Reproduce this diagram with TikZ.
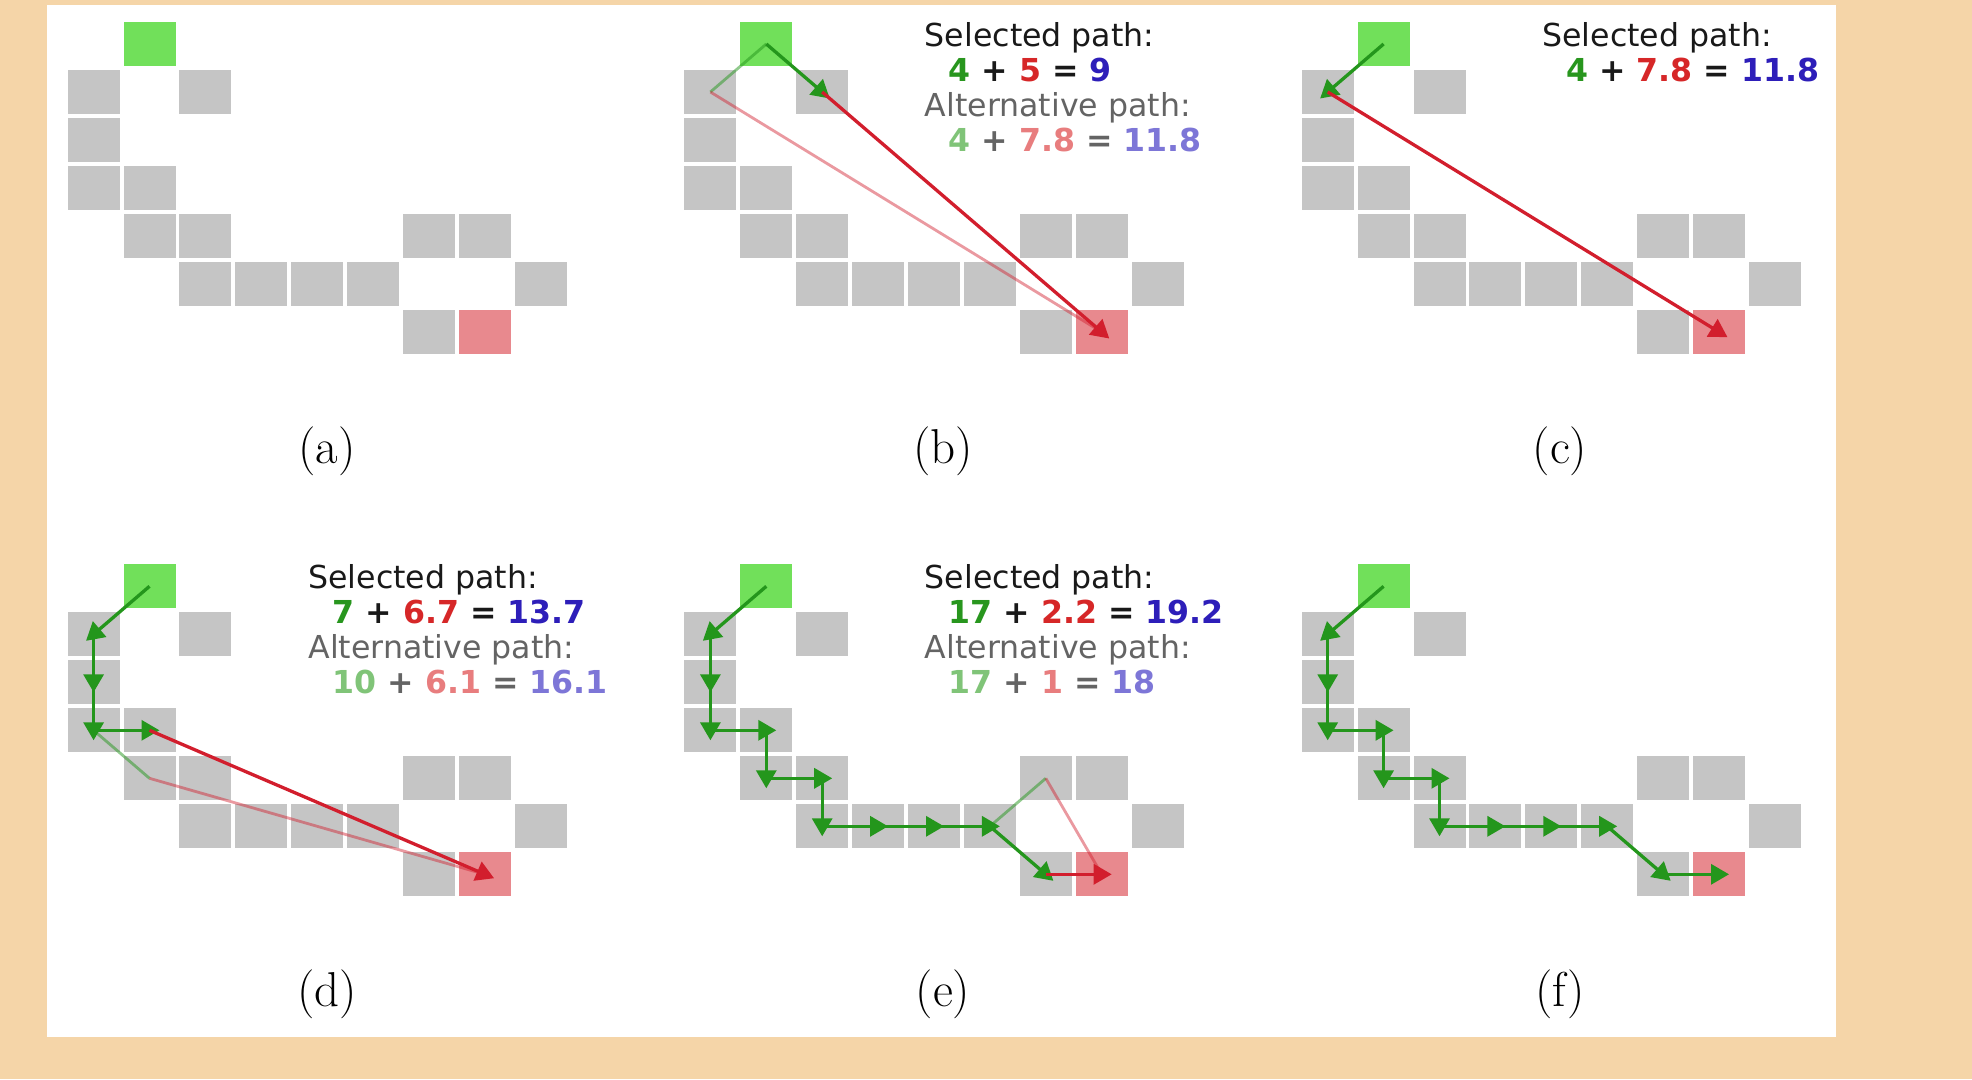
\documentclass[tikz,border=0pt]{standalone}
\usepackage{fontspec}
\newfontfamily\dv{DejaVu Sans}
\usetikzlibrary{arrows.meta}
\definecolor{tanbg}{RGB}{245,213,168}
\definecolor{cellgray}{RGB}{197,197,197}
\definecolor{startgreen}{RGB}{113,224,90}
\definecolor{goalred}{RGB}{232,137,142}
\definecolor{pathgreen}{RGB}{36,150,28}
\definecolor{pathred}{RGB}{210,30,45}
\definecolor{tg}{RGB}{40,150,30}
\definecolor{tr}{RGB}{214,39,40}
\definecolor{tb}{RGB}{45,30,185}
\definecolor{atg}{RGB}{128,196,120}
\definecolor{atr}{RGB}{232,125,126}
\definecolor{atb}{RGB}{125,118,215}
\definecolor{seltext}{RGB}{25,25,25}
\definecolor{alttext}{RGB}{100,100,100}
\tikzset{
  cell/.style={rectangle, minimum width=52pt, minimum height=44pt, inner sep=0pt, outer sep=0pt, draw=none, fill=cellgray},
  startcell/.style={cell, fill=startgreen},
  goalcell/.style={cell, fill=goalred},
  garrow/.style={draw=pathgreen, line width=3.3pt, -{Triangle[length=18pt 0 0,width=20pt 0 0]}, shorten >=-10pt},
  rarrow/.style={draw=pathred, line width=3.3pt, -{Triangle[length=18pt 0 0,width=20pt 0 0]}, shorten >=-10pt},
  galt/.style={draw=pathgreen, draw opacity=0.5, line width=2.8pt},
  ralt/.style={draw=pathred, draw opacity=0.45, line width=2.8pt},
  seltitle/.style={font=\dv\fontsize{31.6}{35}\selectfont, text=seltext, inner sep=0pt, anchor=base west},
  alttitle/.style={font=\dv\fontsize{31.6}{35}\selectfont, text=alttext, inner sep=0pt, anchor=base west},
  selnum/.style={font=\dv\bfseries\fontsize{31.6}{35}\selectfont, text=seltext, inner sep=0pt, anchor=base west},
  altnum/.style={font=\dv\bfseries\fontsize{31.6}{35}\selectfont, text=alttext, inner sep=0pt, anchor=base west},
  caption/.style={font=\fontsize{49}{58}\selectfont, inner sep=0pt, anchor=center}
}
\newcommand\gridpanel[3]{%
  \foreach \cx/\ry in {0/1,2/1,0/2,0/3,1/3,1/4,2/4,6/4,7/4,2/5,3/5,4/5,5/5,8/5,6/6}{
    \node[cell] (#1-\cx-\ry) at ({#2+55.9*\cx+26},{#3+48*\ry+22}) {};
  }
  \node[startcell] (#1-1-0) at ({#2+81.9},{#3+22}) {};
  \node[goalcell] (#1-7-6) at ({#2+417.3},{#3+310}) {};
}
\begin{document}
\begin{tikzpicture}[x=1pt, y=-1pt]
\useasboundingbox (0,0) rectangle (1972,1079);
\fill[tanbg] (0,0) rectangle (1972,1079);
\fill[white] (47,5) rectangle (1836,1037);

% grids
\gridpanel{a}{67.6}{22}
\gridpanel{b}{684.4}{22}
\gridpanel{c}{1301.7}{22}
\gridpanel{d}{67.6}{564.3}
\gridpanel{e}{684.4}{564.3}
\gridpanel{f}{1301.7}{564.3}

% (b)
\draw[galt] (b-1-0.center) -- (b-0-1.center);
\draw[ralt] (b-0-1.center) -- (b-7-6.center);
\draw[garrow] (b-1-0.center) -- (b-2-1.center);
\draw[rarrow] (b-2-1.center) -- (b-7-6.center);
\node[seltitle] (bt1) at (924.7,46) {Selected path:};
\node[selnum] (bt2) at (948.5,81) {{\color{tg}4} + {\color{tr}5} = {\color{tb}9}};
\node[alttitle] (bt3) at (924.7,116) {Alternative path:};
\node[altnum] (bt4) at (948.5,151) {{\color{atg}4} + {\color{atr}7.8} = {\color{atb}11.8}};

% (c)
\draw[garrow] (c-1-0.center) -- (c-0-1.center);
\draw[rarrow] (c-0-1.center) -- (c-7-6.center);
\node[seltitle] (ct1) at (1542.2,46) {Selected path:};
\node[selnum] (ct2) at (1566,81) {{\color{tg}4} + {\color{tr}7.8} = {\color{tb}11.8}};

% (d)
\draw[galt] (d-0-3.center) -- (d-1-4.center);
\draw[ralt] (d-1-4.center) -- (d-7-6.center);
\foreach \p/\q in {1-0/0-1,0-1/0-2,0-2/0-3,0-3/1-3}
  \draw[garrow] (d-\p.center) -- (d-\q.center);
\draw[rarrow] (d-1-3.center) -- (d-7-6.center);
\node[seltitle] (dt1) at (308.2,588.3) {Selected path:};
\node[selnum] (dt2) at (332.5,623) {{\color{tg}7} + {\color{tr}6.7} = {\color{tb}13.7}};
\node[alttitle] (dt3) at (308.2,658) {Alternative path:};
\node[altnum] (dt4) at (332.5,693) {{\color{atg}10} + {\color{atr}6.1} = {\color{atb}16.1}};

% (e)
\draw[galt] (e-5-5.center) -- (e-6-4.center);
\draw[ralt] (e-6-4.center) -- (e-7-6.center);
\foreach \p/\q in {1-0/0-1,0-1/0-2,0-2/0-3,0-3/1-3,1-3/1-4,1-4/2-4,2-4/2-5,2-5/3-5,3-5/4-5,4-5/5-5,5-5/6-6}
  \draw[garrow] (e-\p.center) -- (e-\q.center);
\draw[rarrow] (e-6-6.center) -- (e-7-6.center);
\node[seltitle] (et1) at (924.7,588.3) {Selected path:};
\node[selnum] (et2) at (948.7,623) {{\color{tg}17} + {\color{tr}2.2} = {\color{tb}19.2}};
\node[alttitle] (et3) at (924.7,658) {Alternative path:};
\node[altnum] (et4) at (948.7,693) {{\color{atg}17} + {\color{atr}1} = {\color{atb}18}};

% (f)
\foreach \p/\q in {1-0/0-1,0-1/0-2,0-2/0-3,0-3/1-3,1-3/1-4,1-4/2-4,2-4/2-5,2-5/3-5,3-5/4-5,4-5/5-5,5-5/6-6,6-6/7-6}
  \draw[garrow] (f-\p.center) -- (f-\q.center);

% captions
\node[caption] (capa) at (327,451) {(a)};
\node[caption] (capb) at (943,451) {(b)};
\node[caption] (capc) at (1560,451) {(c)};
\node[caption] (capd) at (327,994) {(d)};
\node[caption] (cape) at (943,994) {(e)};
\node[caption] (capf) at (1560,994) {(f)};
\end{tikzpicture}
\end{document}
